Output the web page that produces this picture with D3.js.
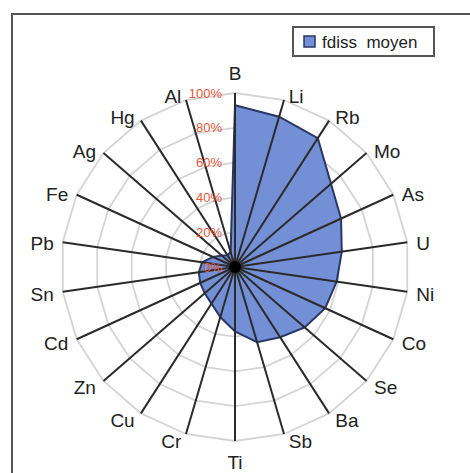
<!DOCTYPE html>
<html><head><meta charset="utf-8">
<script src="https://cdn.jsdelivr.net/npm/d3@7"></script>
<style>html,body{margin:0;padding:0;background:#fff;}svg{display:block;}</style>
</head><body>
<svg id="chart" width="470" height="473"></svg>
<script>
const categories = ["B","Li","Rb","Mo","As","U","Ni","Co","Se","Ba","Sb","Ti","Cr","Cu","Zn","Cd","Sn","Pb","Fe","Ag","Hg","Al"];
const fdissMoyen = [93, 90, 88, 73, 67, 62, 59, 57, 53, 48, 45, 37, 30, 25, 23, 22, 21, 19, 14, 10, 8, 9];
const tickValues = [0, 20, 40, 60, 80, 100];
const tickLabels = ["0%", "20%", "40%", "60%", "80%", "100%"];
const seriesName = "fdiss  moyen";

const svg = d3.select("#chart");
const cx = 235, cy = 267, R = 174;
const r = d3.scaleLinear().domain([0, 100]).range([0, R]);
const ang = d3.scalePoint().domain(categories.concat(["__end"])).range([0, 2 * Math.PI]);
const a = c => ang(c);
const pt = (c, v) => [cx + r(v) * Math.sin(a(c)), cy - r(v) * Math.cos(a(c))];

// outer frame
svg.append("rect").attr("x", 12).attr("y", 14).attr("width", 470).attr("height", 470)
  .attr("fill", "none").attr("stroke", "#555").attr("stroke-width", 2);

// gridlines (polygons)
const gridG = svg.append("g");
tickValues.forEach(t => {
  if (t === 0) return;
  gridG.append("path")
    .attr("d", d3.line()(categories.map(c => pt(c, t))) + "Z")
    .attr("fill", "none").attr("stroke", "#d4d4d4").attr("stroke-width", 1.8);
});

// series area
const line = d3.lineRadial().angle((d, i) => a(categories[i])).radius(d => r(d)).curve(d3.curveLinearClosed);
svg.append("path")
  .attr("transform", `translate(${cx},${cy})`)
  .attr("d", line(fdissMoyen))
  .attr("fill", "#7390d6").attr("stroke", "#2a3766").attr("stroke-width", 2);

// spokes
const spokeG = svg.append("g");
categories.forEach(c => {
  const [x, y] = pt(c, 100);
  spokeG.append("line").attr("x1", cx).attr("y1", cy).attr("x2", x).attr("y2", y)
    .attr("stroke", "#2b2b2b").attr("stroke-width", 2);
});
svg.append("circle").attr("cx", cx).attr("cy", cy).attr("r", 6).attr("fill", "#000");

// category labels
const labG = svg.append("g").attr("font-family", "Liberation Sans, Arial, sans-serif")
  .attr("font-size", 19).attr("fill", "#222");
categories.forEach(c => {
  const th = a(c), s = Math.sin(th), co = Math.cos(th);
  const lr = 180;
  let x = cx + lr * s, y = cy - lr * co;
  let anchor = "middle", dy = "0.35em";
  if (s > 0.1) { anchor = "start"; x += 3; y += 2; }
  else if (s < -0.1) { anchor = "end"; x -= 3; y += 2; }
  else if (co > 0) { y -= 14; }
  else { y += 15; }
  labG.append("text").attr("x", x).attr("y", y).attr("dy", dy)
    .attr("text-anchor", anchor).text(c);
});

// tick labels
const tickG = svg.append("g").attr("font-family", "Liberation Sans, Arial, sans-serif")
  .attr("font-size", 13).attr("fill", "#e8553a");
tickValues.forEach((t, i) => {
  tickG.append("text").attr("x", cx - 13).attr("y", cy - r(t)).attr("dy", "0.35em")
    .attr("text-anchor", "end").text(tickLabels[i]);
});

// legend
const lg = svg.append("g");
lg.append("rect").attr("x", 293).attr("y", 27).attr("width", 141).attr("height", 29)
  .attr("fill", "#fff").attr("stroke", "#555").attr("stroke-width", 2);
lg.append("rect").attr("x", 304).attr("y", 36).attr("width", 11).attr("height", 11)
  .attr("fill", "#7390d6").attr("stroke", "#2a3766").attr("stroke-width", 1.5);
lg.append("text").attr("x", 322).attr("y", 42).attr("dy", "0.35em")
  .attr("font-family", "Liberation Sans, Arial, sans-serif").attr("font-size", 17)
  .attr("fill", "#222").attr("xml:space", "preserve").style("white-space", "pre").text(seriesName);
</script>
</body></html>
